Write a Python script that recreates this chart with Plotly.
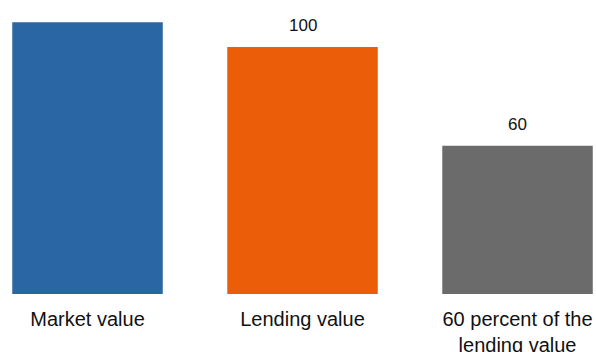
import plotly.graph_objects as go

# Collateral values
categories = ["Market value", "Lending value", "60 percent of the<br>lending value"]
values = [110, 100, 60]
value_labels = ["", "100", "60"]
colors = ["#2966A3", "#EC5D0A", "#6B6B6C"]

fig = go.Figure(
    go.Bar(
        x=categories,
        y=values,
        marker=dict(color=colors, line=dict(width=0)),
        width=0.70,
        hoverinfo="x+y",
    )
)

# Value labels above the bars
for cat, val, lab in zip(categories, values, value_labels):
    if lab:
        fig.add_annotation(
            x=cat, y=val, text=lab, showarrow=False,
            yanchor="bottom", yshift=10,
            font=dict(family="Liberation Sans, Arial, sans-serif", size=17, color="#111111"),
        )

fig.update_layout(
    width=596,
    height=352,
    margin=dict(l=0, r=0, t=0, b=57.5, autoexpand=False),
    plot_bgcolor="white",
    paper_bgcolor="white",
    showlegend=False,
    font=dict(family="Liberation Sans, Arial, sans-serif", size=20, color="#111111"),
    xaxis=dict(
        range=[-0.407, 2.365],
        showgrid=False, zeroline=False, showline=False, ticks="",
        tickfont=dict(size=20),
        ticklabelstandoff=11,
        automargin=False,
    ),
    yaxis=dict(
        range=[0, 119],
        visible=False,
        automargin=False,
    ),
)

fig.write_html("out.html")
